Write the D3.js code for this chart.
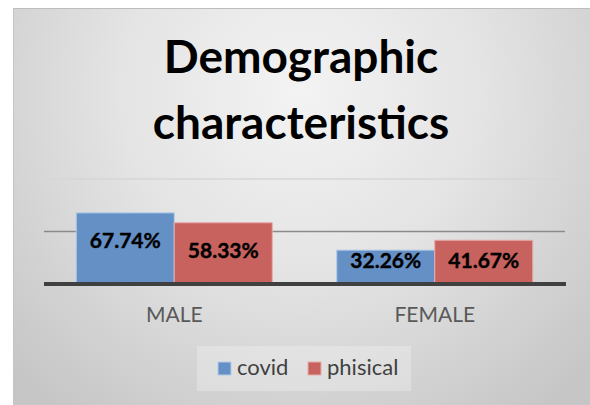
<!DOCTYPE html>
<html>
<head>
<meta charset="utf-8">
<script src="https://cdn.jsdelivr.net/npm/d3@7"></script>
<style>
  html, body { margin: 0; padding: 0; background: #ffffff; }
  svg { display: block; }
</style>
</head>
<body>
<svg id="chart" width="590" height="405"></svg>
<script>
// Chart data
const categories = ["MALE", "FEMALE"];
const seriesNames = ["covid", "phisical"];
const covidValues = [0.6774, 0.3226];
const phisicalValues = [0.5833, 0.4167];
const gridTicks = [0.5, 1.0];
const titleLines = ["Demographic", "characteristics"];

const seriesValues = { covid: covidValues, phisical: phisicalValues };
const colors = { covid: "#6490c6", phisical: "#c8625e" };
const strokes = { covid: "#b4cbe8", phisical: "#e6abaa" };

const svg = d3.select("#chart");
const W = 590, H = 405;

// Radial gradient background of the chart area
const defs = svg.append("defs");
const grad = defs.append("radialGradient")
  .attr("id", "bg")
  .attr("gradientUnits", "userSpaceOnUse")
  .attr("cx", 300).attr("cy", 90).attr("r", 400)
  .attr("fx", 300).attr("fy", 90);
grad.append("stop").attr("offset", "0%").attr("stop-color", "#f3f3f3");
grad.append("stop").attr("offset", "45%").attr("stop-color", "#e4e4e4");
grad.append("stop").attr("offset", "100%").attr("stop-color", "#c6c6c6");

svg.append("rect")
  .attr("x", 14).attr("y", 8)
  .attr("width", W - 14).attr("height", H - 8)
  .attr("fill", "url(#bg)");
svg.append("line")
  .attr("x1", 14).attr("x2", W).attr("y1", 8.5).attr("y2", 8.5)
  .attr("stroke", "#bdbdbd").attr("stroke-width", 1);
svg.append("line")
  .attr("x1", 13.5).attr("x2", 13.5).attr("y1", 8).attr("y2", H)
  .attr("stroke", "#c4c4c4").attr("stroke-width", 1);

// Title
const title = svg.append("text")
  .attr("text-anchor", "middle")
  .attr("font-family", "Lato, 'Open Sans', sans-serif")
  .attr("font-weight", "bold")
  .attr("font-size", 46)
  .attr("fill", "#000");
titleLines.forEach((line, i) => {
  title.append("tspan").attr("x", 301).attr("y", 73 + i * 66).text(line);
});

// Scales
const plotLeft = 44, plotRight = 565;
const x0 = d3.scaleBand()
  .domain(categories)
  .range([plotLeft, plotRight])
  .paddingInner(0.2476)
  .paddingOuter(0.1238);
const x1 = d3.scaleBand()
  .domain(seriesNames)
  .range([0, x0.bandwidth()]);
const y = d3.scaleLinear().domain([0, 1]).range([284, 179]);

// Gridlines
svg.append("g").selectAll("line")
  .data(gridTicks)
  .join("line")
  .attr("x1", plotLeft).attr("x2", plotRight)
  .attr("y1", d => y(d)).attr("y2", d => y(d))
  .attr("stroke", d => d === 1 ? "#d6d6d6" : "#8a8a8a")
  .attr("stroke-width", 1.5);

// Bars
const groups = svg.append("g").selectAll("g")
  .data(categories)
  .join("g")
  .attr("transform", c => `translate(${x0(c)},0)`);

const barData = (c, i) => seriesNames.map(s => ({ series: s, value: seriesValues[s][i] }));

groups.selectAll("rect")
  .data((c, i) => barData(c, i))
  .join("rect")
  .attr("x", d => x1(d.series))
  .attr("y", d => y(d.value))
  .attr("width", x1.bandwidth())
  .attr("height", d => y(0) - y(d.value))
  .attr("fill", d => colors[d.series])
  .attr("stroke", d => strokes[d.series])
  .attr("stroke-width", 1);

// Value labels, kept inside the bar and above the axis
groups.selectAll("text")
  .data((c, i) => barData(c, i))
  .join("text")
  .attr("x", d => x1(d.series) + x1.bandwidth() / 2)
  .attr("y", d => Math.min(y(d.value) + 35, y(0) - 16))
  .attr("text-anchor", "middle")
  .attr("font-family", "Lato, 'Open Sans', sans-serif")
  .attr("font-weight", "bold")
  .attr("font-size", 21)
  .attr("fill", "#000")
  .attr("stroke", "#000")
  .attr("stroke-width", 0.4)
  .text(d => d3.format(".2%")(d.value));

// Category axis line
svg.append("line")
  .attr("x1", plotLeft).attr("x2", plotRight + 1)
  .attr("y1", y(0)).attr("y2", y(0))
  .attr("stroke", "#404040").attr("stroke-width", 4);

// Category labels
const xAxis = d3.axisBottom(x0).tickSize(0).tickPadding(0);
const axisG = svg.append("g")
  .attr("transform", `translate(0,${y(0)})`)
  .call(xAxis);
axisG.select(".domain").remove();
axisG.selectAll("text")
  .attr("dy", null)
  .attr("y", 38)
  .attr("font-family", "Lato, 'Open Sans', sans-serif")
  .attr("font-size", 21)
  .attr("fill", "#595959");

// Legend
const legend = svg.append("g");
legend.append("rect")
  .attr("x", 197).attr("y", 346)
  .attr("width", 214).attr("height", 45)
  .attr("fill", "#ffffff").attr("fill-opacity", 0.25);
const legendX = [218, 308];
const items = legend.selectAll("g.item")
  .data(seriesNames)
  .join("g")
  .attr("class", "item")
  .attr("transform", (s, i) => `translate(${legendX[i]},362)`);
items.append("rect")
  .attr("width", 13).attr("height", 13)
  .attr("fill", s => colors[s])
  .attr("stroke", s => strokes[s]).attr("stroke-width", 1);
items.append("text")
  .attr("x", 19).attr("y", 13)
  .attr("font-family", "Lato, 'Open Sans', sans-serif")
  .attr("font-size", 22)
  .attr("fill", "#404040")
  .text(s => s);
</script>
</body>
</html>
